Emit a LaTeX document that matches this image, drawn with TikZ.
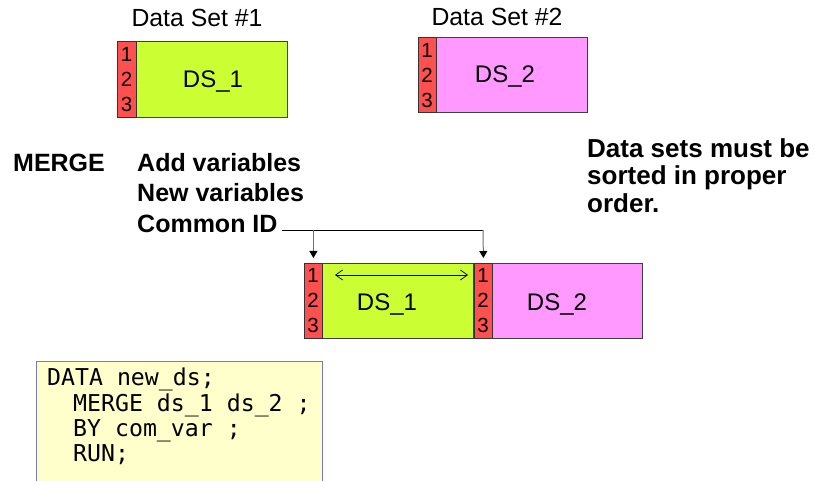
\documentclass[tikz,border=0pt]{standalone}
\usepackage{fontspec}
\setmainfont{Liberation Sans}
\newfontfamily\codefont{DejaVu Sans Mono}
\usetikzlibrary{arrows.meta}
\definecolor{limefill}{HTML}{CCFF33}
\definecolor{pinkfill}{HTML}{FF99FF}
\definecolor{stripfill}{HTML}{FF5050}
\definecolor{codebg}{HTML}{FFFFCC}
\definecolor{codeline}{HTML}{7777CC}
\definecolor{conn}{HTML}{707070}
\tikzset{
  dsbox/.style={draw=black!75, line width=0.8pt, inner sep=0pt, anchor=north west},
  stripbox/.style={draw=black!80, line width=0.8pt, fill=stripfill, inner sep=0pt, anchor=north west, minimum width=18pt},
  digit/.style={anchor=base, inner sep=0pt, font=\fontsize{20.5}{24}\selectfont},
  dslabel/.style={anchor=base, inner sep=0pt, font=\fontsize{24}{28}\selectfont},
  title/.style={anchor=base, inner sep=0pt, font=\fontsize{24.8}{28}\selectfont},
  boldtxt/.style={anchor=base west, inner sep=0pt, font=\fontsize{25}{30}\bfseries\selectfont},
  notetxt/.style={anchor=base west, inner sep=0pt, font=\fontsize{26}{30}\bfseries\selectfont},
  codetxt/.style={anchor=base west, inner sep=0pt, font=\fontsize{23.2}{26}\codefont\selectfont},
  conline/.style={draw=conn, line width=1pt},
  downarrow/.style={conline, -{Triangle[length=7pt,width=8pt,color=black]}},
  spanarrow/.style={draw=black, line width=0.7pt, {Straight Barb[length=7pt,width=10pt]}-{Straight Barb[length=7pt,width=10pt]}}
}
\begin{document}
\begin{tikzpicture}[x=1pt,y=-1pt]
\useasboundingbox (0,0) rectangle (815,481);

% Data Set #1
\node[title] (t1) at (197,27) {Data Set \#1};
\node[dsbox, fill=limefill, minimum width=170pt, minimum height=76pt] (b1) at (117,41) {};
\node[stripbox, minimum height=76pt, minimum width=19pt] (s1) at (117,41) {};
\foreach \d/\y in {1/62,2/87,3/112} \node[digit] (s1d\d) at (126.5,\y) {\d};
\node[dslabel] (l1) at (213,88) {DS\_1};

% Data Set #2
\node[title] (t2) at (497,26) {Data Set \#2};
\node[dsbox, fill=pinkfill, minimum width=169pt, minimum height=75pt] (b2) at (418,37) {};
\node[stripbox, minimum height=75pt] (s2) at (418,37) {};
\foreach \d/\y in {1/58,2/83,3/108} \node[digit] (s2d\d) at (427,\y) {\d};
\node[dslabel] (l2) at (505,83) {DS\_2};

% texts
\node[boldtxt] (merge) at (13,172) {MERGE};
\node[boldtxt] (add) at (137,172) {Add variables};
\node[boldtxt] (newv) at (137,202) {New variables};
\node[boldtxt] (cid) at (137,233) {Common ID};
\node[notetxt] (n1) at (587,157.5) {Data sets must be};
\node[notetxt] (n2) at (587,185) {sorted in proper};
\node[notetxt] (n3) at (587,213) {order.};

% merged data set
\node[dsbox, fill=limefill, minimum width=169pt, minimum height=75pt] (m1) at (304,263) {};
\node[stripbox, minimum height=75pt] (ms1) at (304,263) {};
\foreach \d/\y in {1/283,2/308,3/333} \node[digit] (ms1d\d) at (313,\y) {\d};
\node[dslabel] (ml1) at (387,311) {DS\_1};
\node[dsbox, fill=pinkfill, minimum width=168pt, minimum height=75pt] (m2) at (474,263) {};
\node[stripbox, minimum height=75pt] (ms2) at (474,263) {};
\foreach \d/\y in {1/283,2/308,3/333} \node[digit] (ms2d\d) at (483,\y) {\d};
\node[dslabel] (ml2) at (557,311) {DS\_2};

% connectors
\coordinate (jl) at (282,230);
\coordinate (jr) at (483,230);
\draw[draw=black, line width=0.8pt] (jl) -- (jr);
\draw[downarrow] (ms1.north |- jl) -- ([yshift=5pt]ms1.north);
\draw[downarrow] (jr) -- ([yshift=5pt]ms2.north);
\coordinate (sa) at (335,275);
\coordinate (sb) at (468,275);
\draw[spanarrow] (sa) -- (sb);

% code box
\fill[codebg] (36,361) rectangle (322,482);
\draw[codeline, line width=0.8pt] (36,482) -- (36,361) -- (322,361) -- (322,482);
\node[codetxt] (c1) at (47,385) {DATA new\_ds;};
\node[codetxt] (c2) at (73,411) {MERGE ds\_1 ds\_2 ;};
\node[codetxt] (c3) at (73,436) {BY com\_var ;};
\node[codetxt] (c4) at (73,461) {RUN;};
\end{tikzpicture}
\end{document}
